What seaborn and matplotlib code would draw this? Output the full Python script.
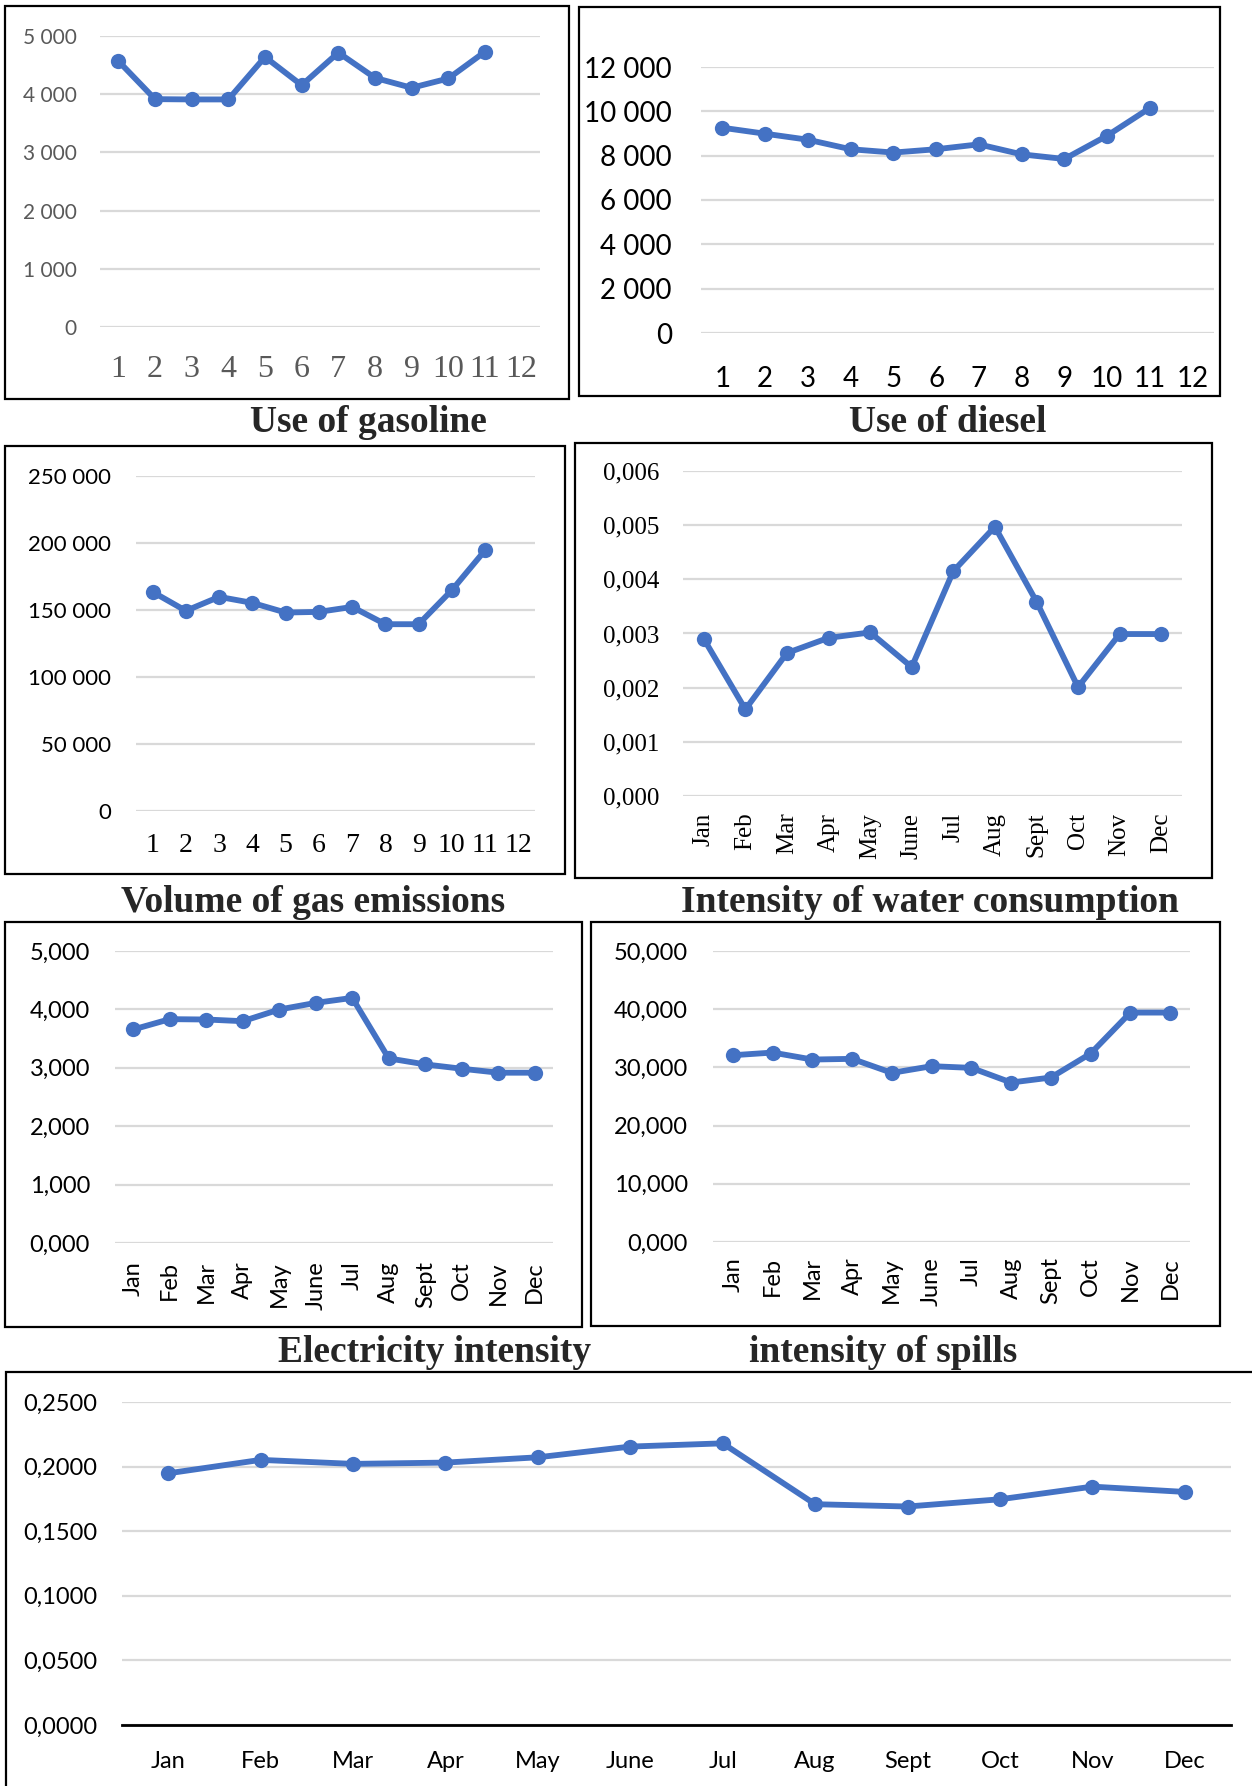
import numpy as np
import pandas as pd
import seaborn as sns
import matplotlib.pyplot as plt
from matplotlib.patches import Rectangle
from matplotlib.ticker import FuncFormatter

# Data
periods = list(range(1, 13))
months = ["Jan", "Feb", "Mar", "Apr", "May", "June", "Jul", "Aug", "Sept", "Oct", "Nov", "Dec"]

gasoline = [4570, 3915, 3910, 3910, 4640, 4155, 4715, 4280, 4110, 4270, 4730]
diesel = [9260, 8990, 8720, 8290, 8140, 8290, 8510, 8060, 7850, 8900, 10150]
gas_emissions = [163500, 149400, 159800, 155300, 148100, 148600, 152300, 139400, 139400, 164800, 194600]
water_intensity = [0.00290, 0.00160, 0.00264, 0.00292, 0.00302, 0.00238, 0.00415, 0.00497, 0.00359, 0.00201, 0.00299, 0.00299]
electricity_intensity = [3.656, 3.833, 3.827, 3.798, 3.998, 4.112, 4.197, 3.161, 3.058, 2.984, 2.916, 2.916]
spills_intensity = [32.09, 32.55, 31.35, 31.47, 29.06, 30.21, 29.92, 27.40, 28.26, 32.38, 39.42, 39.42]
bottom_series = [0.1948, 0.2052, 0.2021, 0.2031, 0.2072, 0.2155, 0.2180, 0.1709, 0.1691, 0.1747, 0.1845, 0.1804]

sns.set_theme(style="white")
plt.rcParams["font.family"] = ["Lato", "DejaVu Sans"]

W, H = 1252, 1786
fig = plt.figure(figsize=(W / 100, H / 100), dpi=100)

BLUE = "#4472C4"
GRID = "#D9D9D9"
SERIF = ["Liberation Serif", "DejaVu Serif"]
SANS = ["Lato", "DejaVu Sans"]


def rect(x0, y0, x1, y1):
    return [x0 / W, 1 - y1 / H, (x1 - x0) / W, (y1 - y0) / H]


def box(x0, y0, x1, y1):
    fig.add_artist(Rectangle((x0 / W, 1 - y1 / H), (x1 - x0) / W, (y1 - y0) / H,
                             transform=fig.transFigure, fill=False, lw=1.6, ec="black"))


def space_fmt(v, pos):
    return f"{int(round(v)):,}".replace(",", " ")


def comma_fmt(decimals):
    return FuncFormatter(lambda v, pos: f"{v:.{decimals}f}".replace(".", ","))


def panel(pos, values, labels, ymax, ystep, yfmt, yfont, ysize, ycolor, xfont, xsize, xcolor,
          xrot=0, ypad=18, xpad=14):
    ax = fig.add_axes(rect(*pos))
    x = np.arange(1, len(values) + 1)
    df = pd.DataFrame({"x": x, "y": values})
    sns.lineplot(data=df, x="x", y="y", ax=ax, color=BLUE, lw=4.2, marker="o",
                 markersize=11, markeredgewidth=0, sort=False, clip_on=False)
    ax.set_xlim(0.5, 12.5)
    ax.set_ylim(0, ymax)
    ax.set_yticks(np.arange(0, ymax + ystep / 2, ystep))
    ax.yaxis.set_major_formatter(yfmt)
    ax.set_xticks(range(1, 13))
    ax.set_xticklabels(labels, rotation=xrot)
    ax.grid(axis="y", color=GRID, lw=1.6)
    ax.grid(axis="x", visible=False)
    ax.set_axisbelow(True)
    for s in ax.spines.values():
        s.set_visible(False)
    ax.set_xlabel("")
    ax.set_ylabel("")
    ax.tick_params(axis="both", length=0)
    ax.tick_params(axis="y", pad=ypad)
    ax.tick_params(axis="x", pad=xpad)
    for t in ax.get_yticklabels():
        t.set_fontfamily(yfont)
        t.set_fontsize(ysize)
        t.set_color(ycolor)
    for t in ax.get_xticklabels():
        t.set_fontfamily(xfont)
        t.set_fontsize(xsize)
        t.set_color(xcolor)
    ax.patch.set_alpha(0)
    return ax


num_labels = [str(p) for p in periods]
TITLE_SIZE = 27

# Use of gasoline
box(5, 6, 569, 399)
panel((100, 36, 540, 327), gasoline, num_labels, 5000, 1000, FuncFormatter(space_fmt),
      SANS, 15, "#595959", SERIF, 23, "#595959", ypad=17, xpad=20)
fig.text(368 / W, 1 - 422 / H, "Use of gasoline", ha="center", va="center",
         fontsize=TITLE_SIZE, fontweight="bold", family=SERIF)

# Use of diesel
box(579, 7, 1220, 396)
panel((701, 67, 1214, 333), diesel, num_labels, 12000, 2000, FuncFormatter(space_fmt),
      SANS, 20, "black", SANS, 20, "black", ypad=21, xpad=24)
fig.text(948 / W, 1 - 422 / H, "Use of diesel", ha="center", va="center",
         fontsize=TITLE_SIZE, fontweight="bold", family=SERIF)

# Volume of gas emissions
box(5, 446, 565, 874)
panel((136, 476, 535, 811), gas_emissions, num_labels, 250000, 50000, FuncFormatter(space_fmt),
      SANS, 16, "black", SERIF, 20, "black", ypad=18, xpad=16)
fig.text(313 / W, 1 - 902 / H, "Volume of gas emissions", ha="center", va="center",
         fontsize=TITLE_SIZE, fontweight="bold", family=SERIF)

# Intensity of water consumption
box(575, 443, 1212, 878)
panel((683, 471, 1182, 796), water_intensity, months, 0.006, 0.001, comma_fmt(3),
      SERIF, 18, "black", SERIF, 18, "black", xrot=90, ypad=17, xpad=12)
fig.text(930 / W, 1 - 902 / H, "Intensity of water consumption", ha="center", va="center",
         fontsize=TITLE_SIZE, fontweight="bold", family=SERIF)

# Electricity intensity
box(5, 922, 582, 1327)
panel((115, 951, 553, 1243), electricity_intensity, months, 5, 1, comma_fmt(3),
      SANS, 17, "black", SANS, 17, "black", xrot=90, ypad=18, xpad=13)
fig.text(435 / W, 1 - 1352 / H, "Electricity intensity", ha="center", va="center",
         fontsize=TITLE_SIZE, fontweight="bold", family=SERIF)

# intensity of spills
box(591, 922, 1220, 1326)
panel((713, 951, 1190, 1242), spills_intensity, months, 50, 10, comma_fmt(3),
      SANS, 17, "black", SANS, 17, "black", xrot=90, ypad=18, xpad=11)
fig.text(883 / W, 1 - 1352 / H, "intensity of spills", ha="center", va="center",
         fontsize=TITLE_SIZE, fontweight="bold", family=SERIF)

# Bottom wide chart
box(6, 1372, 1262, 1800)
ax7 = panel((122, 1402, 1231, 1725), bottom_series, months, 0.25, 0.05, comma_fmt(4),
            SANS, 17, "black", SANS, 17, "black", ypad=18, xpad=19)
ax7.spines["bottom"].set_visible(True)
ax7.spines["bottom"].set_color("black")
ax7.spines["bottom"].set_linewidth(2)

fig.savefig("out.png", dpi=100)
